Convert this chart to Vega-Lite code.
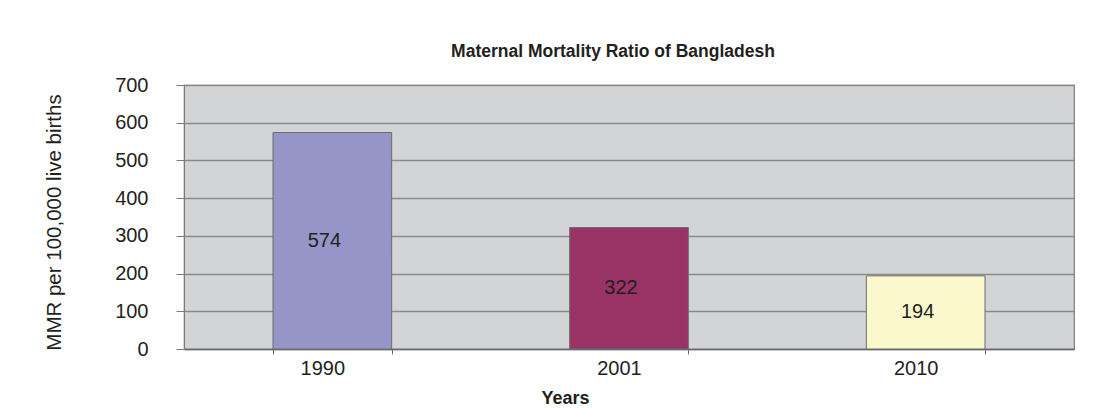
{
  "$schema": "https://vega.github.io/schema/vega-lite/v6.json",
  "autosize": {"type": "none"},
  "padding": {"left": 184, "top": 85, "right": 31, "bottom": 68},
  "width": 890,
  "height": 264,
  "background": "white",
  "config": {
    "font": "Liberation Sans",
    "view": {"fill": "#d3d4d6", "stroke": "#7a7a7a", "strokeWidth": 1.2}
  },
  "title": {
    "text": "Maternal Mortality Ratio of Bangladesh",
    "font": "Liberation Sans",
    "fontSize": 17.5,
    "fontWeight": "bold",
    "color": "#231f20",
    "anchor": "middle",
    "baseline": "alphabetic",
    "offset": 1,
    "dx": -16
  },
  "data": {
    "values": [
      {"year": "1990", "mmr": 574},
      {"year": "2001", "mmr": 322},
      {"year": "2010", "mmr": 194}
    ]
  },
  "layer": [
    {
      "mark": {"type": "bar", "stroke": "#6b6b6b", "strokeWidth": 1},
      "encoding": {
        "x": {
          "field": "year",
          "type": "nominal",
          "sort": null,
          "scale": {"paddingInner": 0.6, "paddingOuter": 0.3},
          "axis": {
            "title": "Years",
            "titleFont": "Liberation Sans",
            "titleFontSize": 18,
            "titleFontWeight": "bold",
            "titleColor": "#231f20",
            "titleX": 381,
            "titleY": 54,
            "titleAlign": "center",
            "titleBaseline": "alphabetic",
            "labelAngle": 0,
            "labelFontSize": 20,
            "labelColor": "#231f20",
            "labelPadding": 4,
            "labelOffset": -10,
            "tickBand": "extent",
            "tickSize": 5,
            "tickColor": "#6b6b6b",
            "domainColor": "#6b6b6b",
            "domainWidth": 1.5,
            "grid": false
          }
        },
        "y": {
          "field": "mmr",
          "type": "quantitative",
          "scale": {"domain": [0, 700]},
          "axis": {
            "title": "MMR per 100,000 live births",
            "titleFont": "Liberation Sans",
            "titleFontSize": 20.5,
            "titleFontWeight": "normal",
            "titleColor": "#231f20",
            "titleX": -130,
            "titleY": 137,
            "titleAlign": "center",
            "titleBaseline": "middle",
            "titleAngle": -90,
            "values": [0, 100, 200, 300, 400, 500, 600, 700],
            "labelFontSize": 20,
            "labelColor": "#231f20",
            "labelPadding": 28,
            "tickSize": 8,
            "tickColor": "#7a7a7a",
            "domainColor": "#7a7a7a",
            "grid": true,
            "gridColor": "#8a8a8a",
            "gridWidth": 1.3
          }
        },
        "color": {
          "field": "year",
          "type": "nominal",
          "scale": {"domain": ["1990", "2001", "2010"], "range": ["#9595c8", "#993366", "#fcf8cd"]},
          "legend": null
        }
      }
    },
    {
      "mark": {"type": "text", "fontSize": 20, "color": "#231f20", "dx": -8, "baseline": "middle", "align": "center"},
      "encoding": {
        "x": {"field": "year", "type": "nominal", "sort": null},
        "y": {
          "field": "mmr",
          "type": "quantitative",
          "scale": {"domain": [0, 1400]},
          "axis": null
        },
        "text": {"field": "mmr", "type": "quantitative"}
      }
    }
  ],
  "resolve": {"scale": {"y": "independent"}}
}
